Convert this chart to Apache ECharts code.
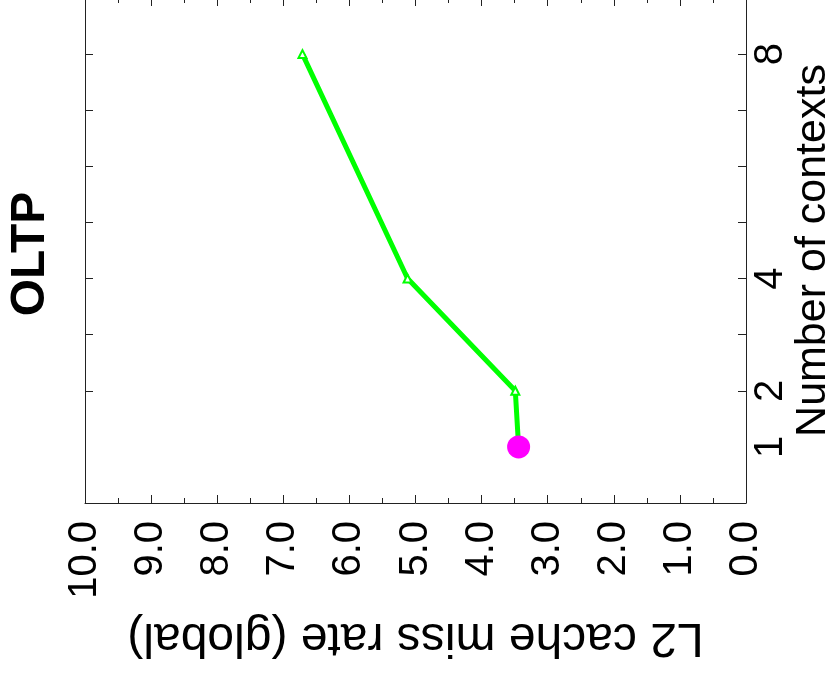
<!DOCTYPE html>
<html>
<head>
<meta charset="utf-8">
<script src="https://cdn.jsdelivr.net/npm/echarts@6/dist/echarts.min.js"></script>
<style>
  html, body { margin: 0; padding: 0; background: #fff; }
  #chart { width: 832px; height: 675px; }
</style>
</head>
<body>
<div id="chart"></div>
<script>
// data
var contexts = [1, 2, 4, 8];
var missRate = [3.44, 3.49, 5.12, 6.71];
var contextLabels = [1, 2, 4, 8];
var contextTicks = [2, 3, 4, 5, 6, 7, 8, 9];

var FONT = 'Liberation Sans';
var AXIS_COLOR = '#222';

var seriesData = contexts.map(function (c, i) {
    var item = { value: [missRate[i], c] };
    if (i === 0) {
        item.symbol = 'circle';
        item.symbolSize = 23;
        item.itemStyle = { color: '#ff00ff', borderWidth: 0 };
    }
    return item;
});

var chart = echarts.init(document.getElementById('chart'), null, { renderer: 'canvas' });

chart.setOption({
    animation: false,
    grid: {
        left: 85,
        right: 86,
        top: -2,
        bottom: 172,
        outerBoundsMode: 'none'
    },
    graphic: [
        {
            type: 'text',
            x: 31,
            y: 254,
            rotation: Math.PI / 2,
            style: {
                text: 'OLTP',
                font: 'bold 48px "' + FONT + '"',
                fill: '#000',
                align: 'center',
                verticalAlign: 'middle'
            }
        }
    ],
    xAxis: [
        {
            type: 'value',
            position: 'bottom',
            min: 0,
            max: 10,
            interval: 1,
            inverse: true,
            name: 'L2 cache miss rate (global)',
            nameLocation: 'middle',
            nameRotate: 180,
            nameGap: 110,
            nameTextStyle: { fontFamily: FONT, fontSize: 48, color: '#000' },
            axisLine: { show: true, onZero: false, lineStyle: { color: AXIS_COLOR, width: 1 } },
            axisTick: { show: true, inside: true, length: 8, lineStyle: { color: AXIS_COLOR } },
            minorTick: { show: true, splitNumber: 2, length: 5, lineStyle: { color: AXIS_COLOR } },
            splitLine: { show: false },
            axisLabel: {
                rotate: 90,
                margin: 18,
                fontFamily: FONT,
                fontSize: 40,
                color: '#000',
                formatter: function (v) { return v.toFixed(1); }
            }
        },
        {
            type: 'value',
            position: 'top',
            min: 0,
            max: 10,
            interval: 1,
            inverse: true,
            axisLine: { show: true, onZero: false, lineStyle: { color: AXIS_COLOR, width: 1 } },
            axisTick: { show: true, inside: true, length: 8, lineStyle: { color: AXIS_COLOR } },
            minorTick: { show: true, splitNumber: 2, length: 5, lineStyle: { color: AXIS_COLOR } },
            splitLine: { show: false },
            axisLabel: { show: false }
        }
    ],
    yAxis: [
        {
            type: 'value',
            position: 'right',
            min: 0,
            max: 9,
            name: 'Number of contexts',
            nameLocation: 'middle',
            nameRotate: 90,
            nameGap: 46,
            nameMoveOverlap: false,
            nameTextStyle: { fontFamily: FONT, fontSize: 43, color: '#000' },
            axisLine: { show: true, onZero: false, lineStyle: { color: AXIS_COLOR, width: 1 } },
            axisTick: {
                show: true, inside: true, length: 8,
                customValues: contextTicks,
                lineStyle: { color: AXIS_COLOR }
            },
            splitLine: { show: false },
            axisLabel: {
                rotate: 90,
                margin: 5,
                fontFamily: FONT,
                fontSize: 40,
                color: '#000',
                customValues: contextLabels
            }
        },
        {
            type: 'value',
            position: 'left',
            min: 0,
            max: 9,
            axisLine: { show: true, onZero: false, lineStyle: { color: AXIS_COLOR, width: 1 } },
            axisTick: {
                show: true, inside: true, length: 8,
                customValues: contextTicks,
                lineStyle: { color: AXIS_COLOR }
            },
            splitLine: { show: false },
            axisLabel: { show: false }
        }
    ],
    series: [
        {
            name: 'OLTP',
            type: 'line',
            xAxisIndex: 0,
            yAxisIndex: 0,
            data: seriesData,
            symbol: 'emptyTriangle',
            symbolSize: 8,
            lineStyle: { color: '#00ff00', width: 5 },
            itemStyle: { color: '#00ff00', borderWidth: 1.5 },
            z: 3
        }
    ]
});

window.addEventListener('resize', function () {
    chart.resize();
});
</script>
</body>
</html>
